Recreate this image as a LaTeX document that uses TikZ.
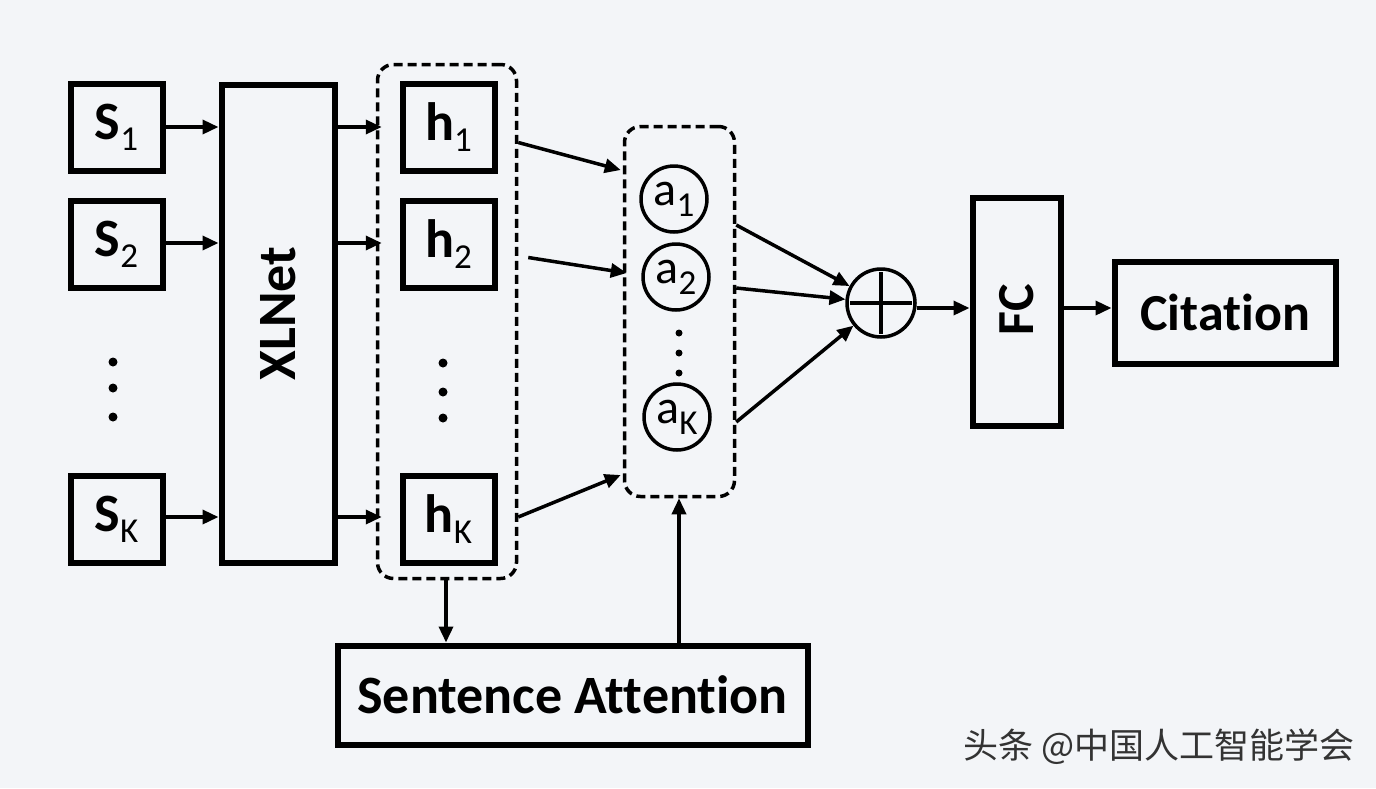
\documentclass[tikz,border=0pt]{standalone}
\usepackage{fontspec}
\setmainfont{Carlito}[Ligatures=NoCommon]
\newfontfamily\cjk{Noto Sans CJK SC}
\usetikzlibrary{arrows.meta,calc}
\definecolor{bg}{RGB}{243,245,248}
\newcommand\subsc[1]{\raisebox{-11pt}{\fontsize{35}{35}\selectfont\mdseries #1}}
\begin{document}
\begin{tikzpicture}[x=1pt,y=-1pt,
  box/.style={draw, line width=6pt, inner sep=0pt, font=\fontsize{54}{54}\selectfont\bfseries},
  grp/.style={draw, line width=3.5pt, dash pattern=on 9pt off 5pt, rounded corners=16pt, inner sep=0pt},
  acirc/.style={draw, circle, line width=3.5pt, minimum size=66pt, inner sep=0pt, font=\fontsize{48}{48}\selectfont},
  arr/.style={line width=3.5pt, -{Triangle[length=16pt,width=14pt]}},
  dot/.style={fill, circle, inner sep=0pt, minimum size=#1},
]
\fill[bg] (0,0) rectangle (1376,788);
\useasboundingbox (0,0) rectangle (1376,788);

% inputs
\node[box, minimum width=92pt, minimum height=87pt] (s1) at (116.5,127.5) {S\subsc{1}};
\node[box, minimum width=92pt, minimum height=87pt] (s2) at (116.5,244.5) {S\subsc{2}};
\node[box, minimum width=92pt, minimum height=87pt] (sk) at (116.5,519) {S\subsc{K}};
\node[dot=9pt] (sd1) at (113,362) {};
\node[dot=9pt] (sd2) at (113,388) {};
\node[dot=9pt] (sd3) at (113,417) {};

% XLNet
\node[box, minimum width=113pt, minimum height=478pt] (xl) at (278,323.5) {};
\node[font=\fontsize{54}{54}\selectfont\bfseries, rotate=90] (xlt) at ($(xl.center)+(0,-10)$) {XLNet};

% h group
\node[grp, minimum width=139pt, minimum height=514pt] (hg) at (447,321.5) {};
\node[box, minimum width=92pt, minimum height=87pt] (h1) at (448.5,127.5) {h\subsc{1}};
\node[box, minimum width=92pt, minimum height=87pt] (h2) at (448.5,244.5) {h\subsc{2}};
\node[box, minimum width=92pt, minimum height=87pt] (hk) at (448.5,519) {h\subsc{K}};
\node[dot=9pt] (hd1) at (443,363) {};
\node[dot=9pt] (hd2) at (443,392) {};
\node[dot=9pt] (hd3) at (443,418) {};

% a group
\node[grp, minimum width=110pt, minimum height=370pt] (ag) at (679.5,311.5) {};
\node[acirc] (a1) at (674,199) {a\subsc{1}};
\node[acirc] (a2) at (676,277) {a\subsc{2}};
\node[acirc] (ak) at (677,417) {a\subsc{K}};
\node[dot=7pt] (ad1) at (679,333) {};
\node[dot=7pt] (ad2) at (679,353) {};
\node[dot=7pt] (ad3) at (679,373) {};

% sum
\node[draw, circle, line width=3.5pt, minimum size=68pt, inner sep=0pt] (plus) at (881,303) {};
\draw[line width=4pt] ($(plus.west)+(5,0)$) -- ($(plus.east)+(-5,0)$);
\draw[line width=4pt] ($(plus.north)+(0,5)$) -- ($(plus.south)+(0,-5)$);

% FC and output
\node[box, minimum width=88pt, minimum height=228pt] (fc) at (1016.5,311.5) {};
\node[font=\fontsize{52}{52}\selectfont\bfseries, rotate=90] (fct) at ($(fc.center)+(0,-2)$) {FC};
\node[box, minimum width=221pt, minimum height=102pt, font=\fontsize{52}{52}\selectfont\bfseries] (cit) at (1225,312.5) {Citation};

% sentence attention
\node[box, minimum width=470pt, minimum height=99pt, font=\fontsize{54}{54}\selectfont\bfseries] (sa) at (572.5,695) {Sentence Attention};

% arrows S -> XLNet -> h
\foreach \s/\y in {s1/127, s2/243, sk/517}{
  \draw[arr] (\s.east |- 0,\y) -- (xl.west |- 0,\y);
}
\foreach \y in {127, 243, 517}{
  \draw[arr] (xl.east |- 0,\y) -- ($(hg.west |- 0,\y)+(6,0)$);
}

% h -> a group
\draw[arr] ($(hg.east |- h1.center)+(0,15)$) -- ($(ag.west |- a1.center)+(-2,-29)$);
\draw[arr] ($(hg.east |- h2.center)+(10,13)$) -- ($(ag.west |- a2.center)+(4,-4)$);
\draw[arr] ($(hg.east |- hk.center)+(0,-2)$) -- ($(ag.west |- ak.center)+(-2,58)$);

% a group -> plus
\draw[arr] ($(ag.east |- a1.center)+(0,26)$) -- (plus);
\draw[arr] ($(ag.east |- a2.center)+(0,11)$) -- (plus);
\draw[arr] ($(ag.east |- ak.center)+(0,5)$) -- (plus);

% plus -> FC -> Citation
\draw[arr] (plus.east |- 0,308) -- (fc.west |- 0,308);
\draw[arr] (fc.east |- 0,308) -- (cit.west |- 0,308);

% attention loop
\draw[arr] (hg.south -| 446,0) -- (sa.north -| 446,0);
\draw[arr] (sa.north -| 679,0) -- (ag.south -| 679,0);

% watermark
\node[anchor=west, font=\cjk\fontsize{35}{35}\selectfont, text=black!80, inner sep=0pt] (wm) at (963,747) {头条 @中国人工智能学会};
\end{tikzpicture}
\end{document}
